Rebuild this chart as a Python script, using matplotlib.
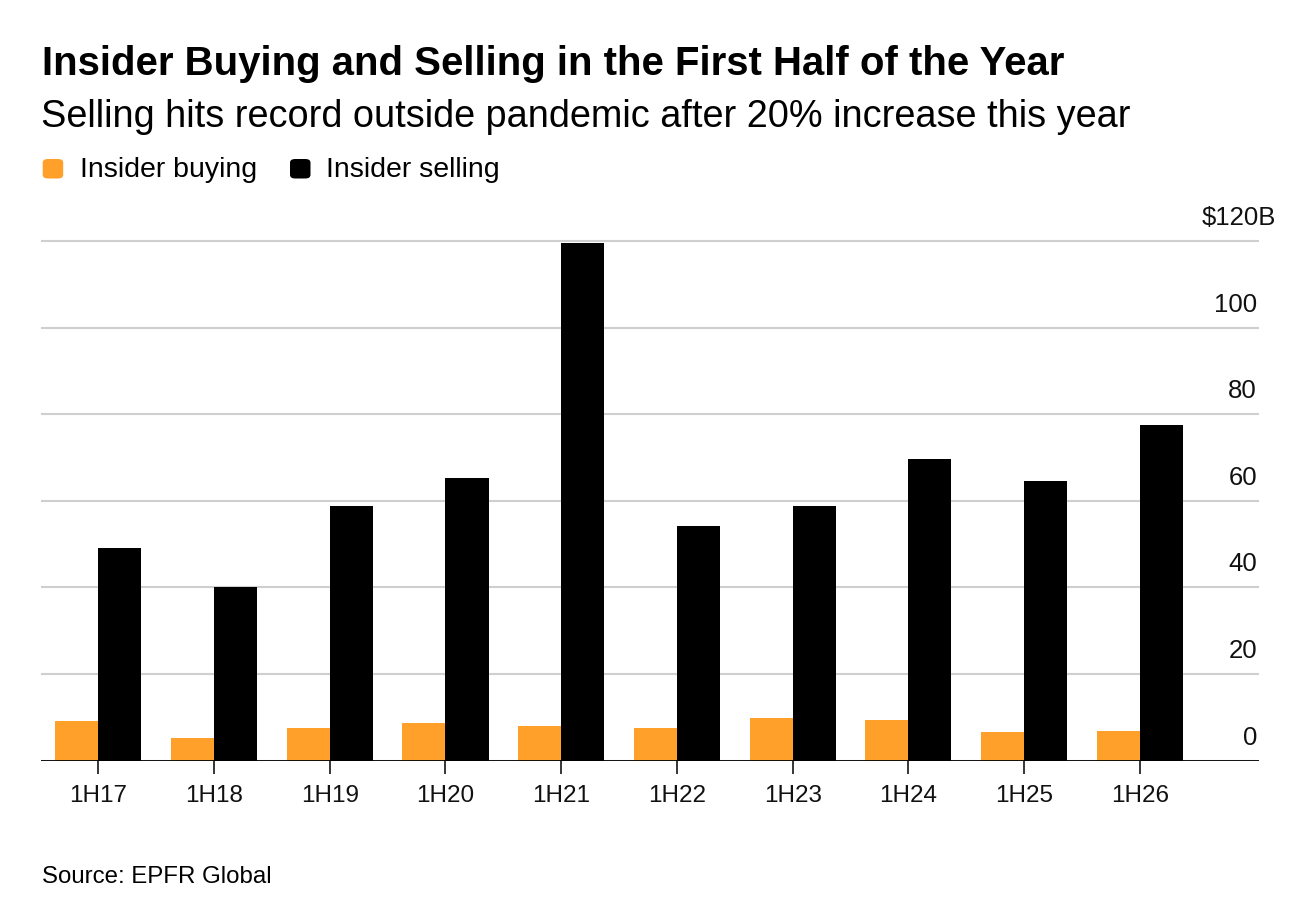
import matplotlib
matplotlib.use("Agg")
import matplotlib.pyplot as plt
import matplotlib.transforms as mtransforms
from matplotlib.patches import FancyBboxPatch
import numpy as np

plt.rcParams['font.family'] = ['Liberation Sans', 'DejaVu Sans']

categories = ["1H17", "1H18", "1H19", "1H20", "1H21", "1H22", "1H23", "1H24", "1H25", "1H26"]
insider_buying = [9.2, 5.2, 7.5, 8.7, 7.9, 7.6, 9.9, 9.4, 6.6, 6.9]
insider_selling = [49.2, 40.2, 58.8, 65.3, 119.5, 54.3, 58.9, 69.6, 64.5, 77.5]
y_ticks = [0, 20, 40, 60, 80, 100, 120]
y_tick_labels = ["0", "20", "40", "60", "80", "100", "$120B"]

ORANGE = "#FFA02A"
BLACK = "#000000"
GRID = "#cfcfcf"

W, H = 1308, 920
fig = plt.figure(figsize=(W / 100, H / 100), dpi=100)
fig.patch.set_facecolor("white")

def fx(px):
    return px / W

def fy(py):
    return (H - py) / H

ax_left, ax_right = 41, 1259
ax_bottom, ax_top = 761.7, 240
ax = fig.add_axes([fx(ax_left), fy(ax_bottom), (ax_right - ax_left) / W, (ax_bottom - ax_top) / H])

x = np.arange(len(categories))
bw = 0.372
ax.bar(x - bw / 2, insider_buying, width=bw, color=ORANGE, zorder=3)
ax.bar(x + bw / 2, insider_selling, width=bw, color=BLACK, zorder=3)

ax.set_xlim(-0.495, 10.03)
ax.set_ylim(0, 120.46)

for s in ax.spines.values():
    s.set_visible(False)

ax.set_yticks(y_ticks)
ax.yaxis.grid(True, color=GRID, linewidth=1.5, zorder=0)
ax.tick_params(axis="y", length=0, labelleft=False, labelright=False)
ax.set_axisbelow(True)
ax.axhline(0, color=BLACK, linewidth=2.0, zorder=4)

ax.set_xticks(x)
ax.set_xticklabels(categories, fontsize=17.5)
ax.tick_params(axis="x", length=9.5, width=1.1, color=BLACK, pad=7, labelcolor="#111111")

# y labels: right-aligned, sitting above the gridlines
ytrans = ax.get_yaxis_transform()
for v, lab in zip(y_ticks, y_tick_labels):
    if lab.startswith("$"):
        off = mtransforms.offset_copy(ytrans, fig=fig, x=17, y=12, units="dots")
    else:
        off = mtransforms.offset_copy(ytrans, fig=fig, x=-2, y=12, units="dots")
    ax.text(1.0, v, lab, transform=off, ha="right", va="bottom", fontsize=18.5, color="#111111")

# Title and subtitle
fig.text(fx(42), fy(75), "Insider Buying and Selling in the First Half of the Year",
         fontsize=28.9, fontweight="bold", ha="left", va="baseline", color="#000000")
fig.text(fx(41), fy(126.7), "Selling hits record outside pandemic after 20% increase this year",
         fontsize=27.3, ha="left", va="baseline", color="#000000")

# Legend
def legend_square(x0, color):
    p = FancyBboxPatch((fx(x0), fy(179.5)), 20.5 / W, 19.5 / H,
                       boxstyle="round,pad=0,rounding_size=0.004",
                       transform=fig.transFigure, facecolor=color, edgecolor="none", linewidth=0)
    fig.patches.append(p)

legend_square(42.7, ORANGE)
fig.text(fx(80), fy(177.3), "Insider buying", fontsize=20.5, ha="left", va="baseline")
legend_square(290, BLACK)
fig.text(fx(326.5), fy(177.3), "Insider selling", fontsize=20.5, ha="left", va="baseline")

# Source
fig.text(fx(41.5), fy(882.7), "Source: EPFR Global", fontsize=17.3, ha="left", va="baseline")

fig.savefig("out.png", dpi=100, facecolor="white")
